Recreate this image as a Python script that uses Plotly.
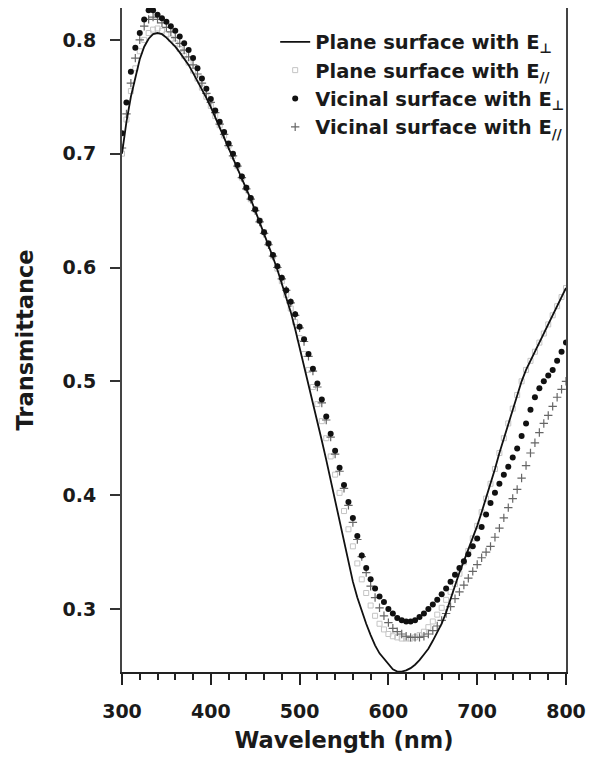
import plotly.graph_objects as go

wavelength = list(range(300, 805, 5))

plane_perp = [
    0.700, 0.728, 0.750, 0.768, 0.783, 0.794, 0.801, 0.805, 0.806, 0.805,
    0.802, 0.798, 0.794, 0.789, 0.784, 0.778, 0.771, 0.764, 0.757, 0.749,
    0.741, 0.732, 0.724, 0.715, 0.706, 0.697, 0.688, 0.679, 0.669, 0.660,
    0.650, 0.640, 0.630, 0.620, 0.609, 0.598, 0.586, 0.574, 0.561, 0.546,
    0.530, 0.514, 0.498, 0.482, 0.465, 0.448, 0.431, 0.413, 0.395, 0.377,
    0.358, 0.341, 0.324, 0.310, 0.298, 0.287, 0.277, 0.268, 0.261, 0.256,
    0.251, 0.247, 0.245, 0.245, 0.246, 0.248, 0.251, 0.255, 0.260, 0.265,
    0.272, 0.279, 0.287, 0.297, 0.309, 0.321, 0.332, 0.342, 0.352, 0.362,
    0.373, 0.385, 0.397, 0.410, 0.423, 0.437, 0.450, 0.463, 0.476, 0.488,
    0.500, 0.510, 0.518, 0.526, 0.534, 0.542, 0.550, 0.558, 0.566, 0.574,
    0.582,
]

plane_par = [
    0.700, 0.730, 0.755, 0.775, 0.790, 0.800, 0.806, 0.809, 0.810, 0.808,
    0.805, 0.801, 0.797, 0.792, 0.786, 0.780, 0.773, 0.766, 0.758, 0.750,
    0.742, 0.733, 0.725, 0.716, 0.707, 0.698, 0.689, 0.679, 0.670, 0.660,
    0.651, 0.641, 0.631, 0.621, 0.610, 0.599, 0.588, 0.576, 0.564, 0.552,
    0.538, 0.524, 0.510, 0.495, 0.480, 0.465, 0.450, 0.434, 0.418, 0.402,
    0.386, 0.370, 0.355, 0.340, 0.326, 0.314, 0.303, 0.294, 0.287, 0.282,
    0.278, 0.276, 0.275, 0.274, 0.274, 0.274, 0.275, 0.277, 0.280, 0.284,
    0.289, 0.295, 0.301, 0.308, 0.315, 0.322, 0.331, 0.341, 0.351, 0.362,
    0.373, 0.385, 0.397, 0.410, 0.423, 0.437, 0.450, 0.463, 0.476, 0.488,
    0.500, 0.510, 0.518, 0.526, 0.534, 0.542, 0.550, 0.558, 0.566, 0.574,
    0.582,
]

vicinal_perp = [
    0.718, 0.745, 0.772, 0.793, 0.806, 0.818, 0.826, 0.826, 0.822, 0.819,
    0.816, 0.812, 0.808, 0.803, 0.797, 0.791, 0.784, 0.775, 0.766, 0.757,
    0.748, 0.738, 0.728, 0.719, 0.709, 0.700, 0.690, 0.680, 0.670, 0.661,
    0.651, 0.641, 0.631, 0.621, 0.611, 0.601, 0.591, 0.580, 0.570, 0.559,
    0.548, 0.537, 0.524, 0.511, 0.498, 0.484, 0.469, 0.454, 0.439, 0.424,
    0.409, 0.394, 0.380, 0.364, 0.347, 0.336, 0.326, 0.318, 0.311, 0.306,
    0.300, 0.296, 0.292, 0.290, 0.289, 0.289, 0.290, 0.293, 0.296, 0.300,
    0.304, 0.308, 0.313, 0.318, 0.324, 0.330, 0.336, 0.342, 0.348, 0.355,
    0.362, 0.372, 0.383, 0.393, 0.402, 0.410, 0.418, 0.425, 0.433, 0.441,
    0.452, 0.463, 0.475, 0.486, 0.494, 0.500, 0.505, 0.510, 0.518, 0.526,
    0.534,
]

vicinal_par = [
    0.705, 0.735, 0.762, 0.784, 0.800, 0.812, 0.818, 0.820, 0.818, 0.815,
    0.811, 0.807, 0.802, 0.797, 0.791, 0.785, 0.778, 0.770, 0.762, 0.753,
    0.745, 0.736, 0.726, 0.717, 0.707, 0.698, 0.689, 0.679, 0.669, 0.660,
    0.650, 0.640, 0.630, 0.620, 0.610, 0.600, 0.590, 0.580, 0.569, 0.558,
    0.547, 0.535, 0.522, 0.509, 0.495, 0.481, 0.466, 0.451, 0.436, 0.421,
    0.406, 0.391, 0.376, 0.361, 0.346, 0.332, 0.320, 0.310, 0.301, 0.294,
    0.288, 0.283, 0.280, 0.278, 0.276, 0.275, 0.275, 0.275, 0.276, 0.278,
    0.281, 0.285, 0.290, 0.296, 0.302, 0.309, 0.315, 0.321, 0.327, 0.333,
    0.339, 0.345, 0.350, 0.355, 0.363, 0.371, 0.380, 0.389, 0.397, 0.405,
    0.415, 0.426, 0.437, 0.446, 0.455, 0.463, 0.470, 0.478, 0.486, 0.493,
    0.500,
]

x_ticks = [300, 400, 500, 600, 700, 800]
y_ticks = [0.3, 0.4, 0.5, 0.6, 0.7, 0.8]

FONT = "DejaVu Sans"
TXT = "#1a1a1a"

fig = go.Figure()
fig.add_trace(go.Scatter(
    x=wavelength, y=plane_par, mode="markers", legendrank=2,
    name="<b>Plane surface with E<sub>//</sub></b>",
    marker=dict(symbol="square-open", size=5, color="#c4c4c4", line=dict(width=1, color="#c4c4c4")),
))
fig.add_trace(go.Scatter(
    x=wavelength, y=vicinal_par, mode="markers", legendrank=4,
    name="<b>Vicinal surface with E<sub>//</sub></b>",
    marker=dict(symbol="cross-thin", size=6, color="#666666", line=dict(width=1.2, color="#666666")),
))
fig.add_trace(go.Scatter(
    x=wavelength, y=vicinal_perp, mode="markers", legendrank=3,
    name="<b>Vicinal surface with E<sub>⊥</sub></b>",
    marker=dict(symbol="circle", size=6, color="#111111"),
))
fig.add_trace(go.Scatter(
    x=wavelength, y=plane_perp, mode="lines", legendrank=1,
    name="<b>Plane surface with E<sub>⊥</sub></b>",
    line=dict(color="#111111", width=1.8),
))

fig.update_layout(
    width=582, height=745,
    margin=dict(l=114, r=24, t=0, b=81, autoexpand=False),
    paper_bgcolor="white", plot_bgcolor="white",
    font=dict(family=FONT, color=TXT, size=18),
    legend=dict(
        x=0.345, y=0.978, xanchor="left", yanchor="top",
        bgcolor="rgba(0,0,0,0)", borderwidth=0,
        font=dict(family=FONT, size=19.5, color=TXT),
        traceorder="normal",
        tracegroupgap=0,
    ),
    xaxis=dict(
        range=[300, 800], tickvals=x_ticks, ticktext=[f"<b>{v}</b>" for v in x_ticks],
        showgrid=False, zeroline=False, automargin=False,
        showline=True, linecolor="#222222", linewidth=2, mirror=True,
        ticks="outside", ticklen=11, tickwidth=2, tickcolor="#222222",
        ticklabelstandoff=10,
        minor=dict(dtick=20, ticks="outside", ticklen=6, tickwidth=2, tickcolor="#222222", showgrid=False),
        tickfont=dict(family=FONT, size=19, color=TXT),
        title=dict(text="<b>Wavelength (nm)</b>", font=dict(family=FONT, size=22.5, color=TXT), standoff=26),
    ),
    yaxis=dict(
        range=[0.2446, 0.828], tickvals=y_ticks, ticktext=[f"<b>{v}</b>" for v in y_ticks],
        showgrid=False, zeroline=False, automargin=False,
        showline=True, linecolor="#444444", linewidth=2, mirror=True,
        ticks="outside", ticklen=10, tickwidth=2, tickcolor="#333333",
        ticklabelstandoff=10,
        tickfont=dict(family=FONT, size=19, color=TXT),
        title=dict(text="<b>Transmittance</b>", font=dict(family=FONT, size=22.5, color=TXT), standoff=23),
    ),
)

fig.write_html("out.html")
